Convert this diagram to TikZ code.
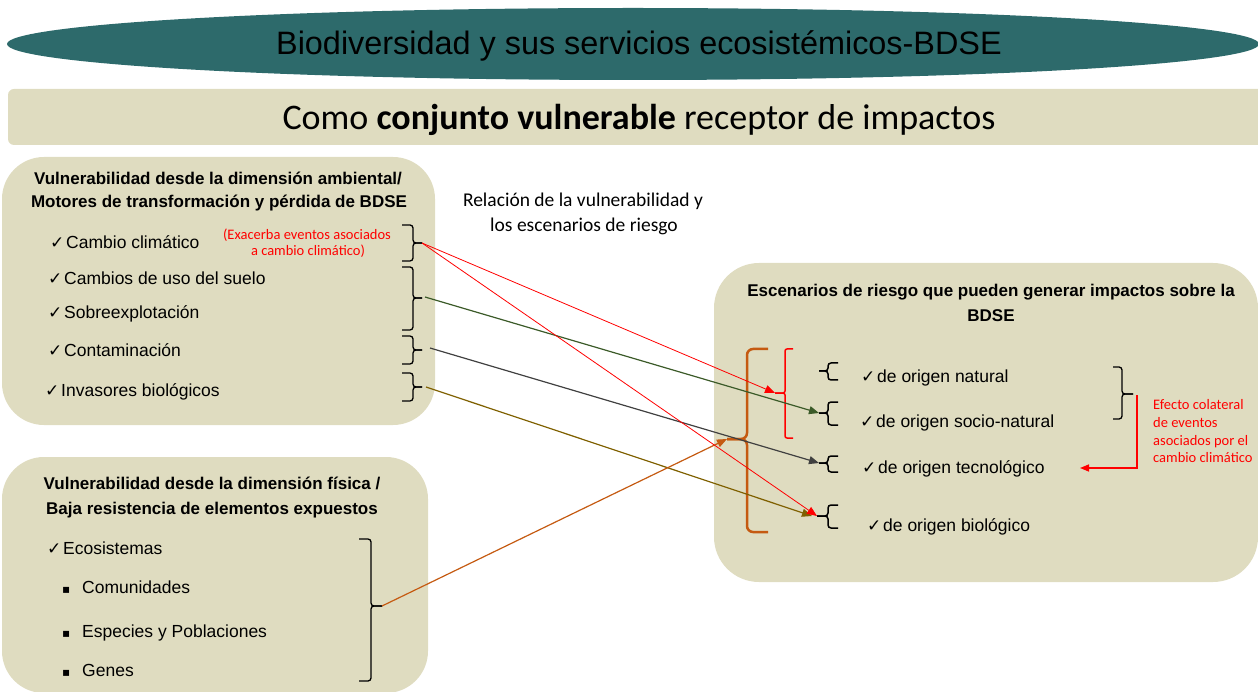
\documentclass[tikz,border=0pt]{standalone}
\usepackage{fontspec}
\setmainfont{Liberation Sans}
\newfontfamily\calfont{Carlito}
\newfontfamily\symfont{DejaVu Sans}
\usetikzlibrary{arrows.meta}
\definecolor{ellteal}{HTML}{2D6A6B}
\definecolor{beige}{HTML}{DFDCC0}
\definecolor{grn}{HTML}{3B5A28}
\definecolor{dgry}{HTML}{404040}
\definecolor{olv}{HTML}{7F6000}
\definecolor{orng}{HTML}{C55A11}
\newcommand\mychk{\makebox[16pt][l]{\symfont\fontsize{17}{17}\selectfont ✓}}
\newcommand\mybul{\makebox[20pt][l]{\symfont\fontsize{12}{12}\selectfont ▪}}
% right brace: xleft, xvert, xtip, ytop, ytip, ybot
\newcommand\rbr[7][]{%
  \draw[brk,#1] (#2,#5) -- (#3,#5) -- (#3,#6) -- (#4,#6);
  \draw[brk,#1] (#2,#7) -- (#3,#7) -- (#3,#6) -- (#4,#6);}
\begin{document}
\begin{tikzpicture}[x=1pt,y=-1pt,
  brk/.style={line width=1.3pt, rounded corners=3pt},
  box/.style={fill=beige, rounded corners=42pt},
  itm/.style={anchor=base west, inner sep=0pt, font=\fontsize{17.5}{21}\selectfont},
  hd/.style={anchor=base, inner sep=0pt, font=\bfseries\fontsize{17}{20}\selectfont},
  note/.style={anchor=base west, inner sep=0pt, text=red, font=\calfont\fontsize{14.5}{17}\selectfont},
  conn/.style={line width=1.2pt},
  tip/.style={-{Triangle[length=10pt,width=8pt]}}]
\useasboundingbox (0,0) rectangle (1258,692);
\clip (0,0) rectangle (1258,692);
% header
\fill[ellteal] (633,44) ellipse [x radius=626, y radius=36];
\node[anchor=base, inner sep=0pt, font=\fontsize{32.4}{36}\selectfont] (title) at (639,55) {Biodiversidad y sus servicios ecosistémicos-BDSE};
\fill[beige, rounded corners=6pt] (8,89) rectangle (1275,145);
\node[anchor=base, inner sep=0pt, font=\calfont\fontsize{36}{40}\selectfont] (sub) at (639,130) {Como \textbf{conjunto vulnerable} receptor de impactos};
% boxes
\fill[box] (2,157) rectangle (435,425);
\fill[box] (2,457) rectangle (428,693);
\fill[box, rounded corners=45pt] (714,263) rectangle (1258,582);
% left top box
\node[hd] (h1a) at (218,185) {Vulnerabilidad desde la dimensión ambiental/};
\node[hd] (h1b) at (219,208) {Motores de transformación y pérdida de BDSE};
\node[itm] (i1) at (50,249) {\mychk Cambio climático};
\node[itm] (i2) at (48,285) {\mychk Cambios de uso del suelo};
\node[itm] (i3) at (48,319) {\mychk Sobreexplotación};
\node[itm] (i4) at (48,357) {\mychk Contaminación};
\node[itm] (i5) at (45,396) {\mychk Invasores biológicos};
\node[note, anchor=base] (n1) at (307,240) {(Exacerba eventos asociados};
\node[note, anchor=base] (n2) at (308,256) {a cambio climático)};
\rbr{402}{413}{422}{225}{243}{261}
\rbr{402}{413}{422}{267}{298}{330}
\rbr{402}{413}{422}{336}{350}{364}
\rbr{402}{413}{422}{373}{387}{401}
\coordinate (s1) at (422,243);
\coordinate (s2) at (425,297);
\coordinate (s3) at (430,348);
\coordinate (s4) at (426,387);
% left bottom box
\node[hd] (h2a) at (212,489) {Vulnerabilidad desde la dimensión física /};
\node[hd] (h2b) at (212,514) {Baja resistencia de elementos expuestos};
\node[itm] (e1) at (47,554) {\mychk Ecosistemas};
\node[itm] (e2) at (62,593) {\mybul Comunidades};
\node[itm] (e3) at (62,637) {\mybul Especies y Poblaciones};
\node[itm] (e4) at (62,676) {\mybul Genes};
\rbr{359}{371}{382}{539}{606}{681}
\coordinate (s5) at (382,606);
% middle label
\node[anchor=base, inner sep=0pt, font=\calfont\fontsize{19.5}{24}\selectfont] (rel1) at (583,207) {Relación de la vulnerabilidad y};
\node[anchor=base, inner sep=0pt, font=\calfont\fontsize{19.5}{24}\selectfont] (rel2) at (584,232) {los escenarios de riesgo};
% right box
\node[hd] (h3a) at (991,297) {Escenarios de riesgo que pueden generar impactos sobre la};
\node[hd] (h3b) at (991,322) {BDSE};
\node[itm] (r1) at (861,383) {\mychk de origen natural};
\node[itm] (r2) at (860,427) {\mychk de origen socio-natural};
\node[itm] (r3) at (862,473) {\mychk de origen tecnológico};
\node[itm] (r4) at (867,531) {\mychk de origen biológico};
% orange and red brackets
\rbr[orng, line width=2.5pt, rounded corners=6pt]{768}{747}{727}{349}{439}{532}
\rbr[red, line width=1.5pt, rounded corners=2pt]{793}{785}{775}{349}{393}{438}
% small brackets
\rbr[line width=1.5pt]{838}{828}{819}{363}{371}{380}
\rbr[line width=1.5pt]{838}{828}{819}{402}{413}{425}
\rbr[line width=1.5pt]{838}{828}{819}{456}{463}{472}
\rbr[line width=1.5pt]{838}{828}{817}{505}{516}{528}
\coordinate (tred) at (775,393);
\coordinate (tsoc) at (819,413);
\coordinate (ttec) at (819,463);
\coordinate (tbio) at (817,516);
\coordinate (tbio2) at (812,516);
\coordinate (torg) at (727,439);
% right brace and effect note
\rbr{1113}{1122}{1133}{367}{394}{419}
\coordinate (es) at (1137,395);
\coordinate (et) at (1080,468);
\node[note] (f1) at (1153,409) {Efecto colateral};
\node[note] (f2) at (1153,427) {de eventos};
\node[note] (f3) at (1153,445) {asociados por el};
\node[note] (f4) at (1153,462) {cambio climático};
% connectors
\draw[conn, olv, tip] (s4) -- (tbio2);
\draw[conn, grn, tip] (s2) -- (tsoc);
\draw[conn, dgry, tip] (s3) -- (ttec);
\draw[conn, orng, tip] (s5) -- (torg);
\draw[red, line width=0.8pt, tip] (s1) -- (tred);
\draw[red, line width=0.8pt, tip] (s1) -- (tbio);
\draw[red, line width=1.5pt, -{Triangle[length=9pt,width=7pt]}] (es) |- (et);
\end{tikzpicture}
\end{document}
